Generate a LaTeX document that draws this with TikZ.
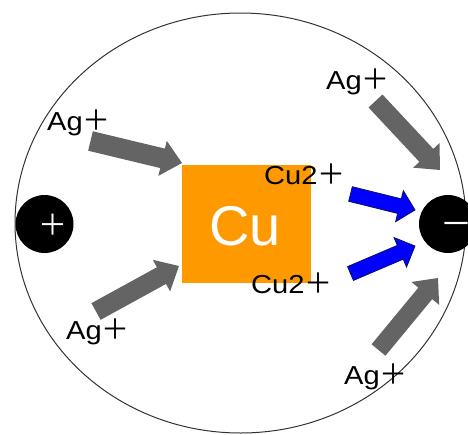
\documentclass[tikz,border=0pt]{standalone}
\usepackage{fontspec}
\setmainfont{Liberation Sans}
\newfontfamily\labfont[FakeStretch=1.12]{Liberation Sans}
\newfontfamily\cjkfont{Noto Sans CJK JP}
\newcommand{\ionplus}{{\fontsize{28}{28}\selectfont\cjkfont ＋}}
\usetikzlibrary{calc}
\definecolor{arrgray}{HTML}{646464}
\definecolor{cuorange}{HTML}{FF9900}
\definecolor{ionblue}{HTML}{0000FF}
\definecolor{bluedge}{HTML}{101060}
\newcommand{\blockarrow}[6]{%
  \coordinate (#2#3h) at ($(#3)!#6!(#2)$);
  \filldraw[#1] ($(#2)!#4!90:(#3)$) -- ($(#2#3h)!#4!90:(#3)$) -- ($(#2#3h)!#5!90:(#3)$)
    -- (#3) -- ($(#2#3h)!#5!-90:(#3)$) -- ($(#2#3h)!#4!-90:(#3)$) -- ($(#2)!#4!-90:(#3)$) -- cycle;}
\tikzset{
  grayarrow/.style={fill=arrgray, draw=none},
  bluearrow/.style={fill=ionblue, draw=bluedge, line width=0.8pt, line join=miter},
  ionlabel/.style={anchor=base west, inner sep=0pt, font=\fontsize{26}{26}\selectfont\labfont},
}
\begin{document}
\begin{tikzpicture}[x=1pt,y=-1pt]
\useasboundingbox[fill=white] (0,0) rectangle (468,434);
% cell
\draw[draw=black!80, line width=1pt] (240.5,223) ellipse [x radius=225.5, y radius=210];
% electrodes
\node[circle, fill=black, minimum size=58pt, inner sep=0pt] (anode) at (44.5,224) {};
\node[anchor=center, text=white, inner sep=0pt, font=\fontsize{29}{29}\selectfont\cjkfont] (plus) at (52.5,225) {＋};
\node[circle, fill=black, minimum size=58pt, inner sep=0pt] (cathode) at (448,224) {};
\node[anchor=west, text=white, inner sep=0pt, font=\fontsize{32}{32}\selectfont\cjkfont] (minus) at (440,229) {－};
% copper
\node[fill=cuorange, minimum width=129pt, minimum height=118pt, inner sep=0pt] (cu) at (246.5,224) {};
\node[anchor=base west, inner sep=0pt, text=white, font=\fontsize{56}{56}\selectfont] (cutext) at (209,245) {Cu};
% arrows
\coordinate (a1s) at (90.5,141);  \coordinate (a1e) at (182,163);
\coordinate (a2s) at (96,311.5);  \coordinate (a2e) at (179,266);
\coordinate (a3s) at (375.5,101); \coordinate (a3e) at (440,170);
\coordinate (a4s) at (378.5,350); \coordinate (a4e) at (438,278);
\coordinate (b1s) at (350.5,194); \coordinate (b1e) at (415,210);
\coordinate (b2s) at (350.5,273.5); \coordinate (b2e) at (415,246);
\blockarrow{grayarrow}{a1s}{a1e}{10pt}{18pt}{20pt}
\blockarrow{grayarrow}{a2s}{a2e}{9.5pt}{18pt}{20pt}
\blockarrow{grayarrow}{a3s}{a3e}{9.5pt}{18pt}{20pt}
\blockarrow{grayarrow}{a4s}{a4e}{9pt}{18pt}{20pt}
\blockarrow{bluearrow}{b1s}{b1e}{7.5pt}{16pt}{16pt}
\blockarrow{bluearrow}{b2s}{b2e}{7.5pt}{16pt}{16pt}
% labels
\node[ionlabel] (ag1) at (47,130) {Ag\ionplus};
\node[ionlabel] (ag2) at (326,89) {Ag\ionplus};
\node[ionlabel] (ag3) at (66,339) {Ag\ionplus};
\node[ionlabel] (ag4) at (344,384) {Ag\ionplus};
\node[ionlabel] (cu1) at (264,184) {Cu2\ionplus};
\node[ionlabel] (cu2) at (251,293) {Cu2\ionplus};
\end{tikzpicture}
\end{document}
